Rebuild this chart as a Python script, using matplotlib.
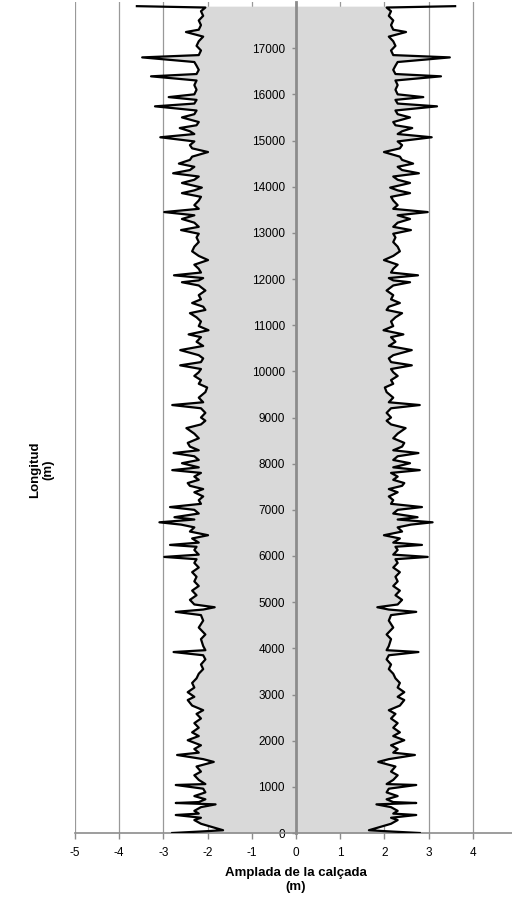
import numpy as np
import matplotlib
matplotlib.use("Agg")
import matplotlib.pyplot as plt

plt.rcParams["font.family"] = ["Liberation Sans", "DejaVu Sans"]
plt.rcParams["axes.unicode_minus"] = False

# Longitud (m) i semiamplada de la calçada (m), llegides del gràfic
dist = [
    0, 30, 60, 130, 200, 280, 330, 390, 420, 480, 560, 620, 650, 670, 730, 800,
    880, 960, 1040, 1060, 1150, 1250, 1330, 1440, 1540, 1600, 1690, 1740, 1820,
    1900, 2010, 2100, 2180, 2280, 2380, 2480, 2580, 2660, 2760, 2880, 2950, 3050,
    3150, 3250, 3350, 3450, 3550, 3650, 3760, 3850, 3920, 3960, 4050, 4200, 4300,
    4450, 4600, 4720, 4790, 4840, 4890, 4950, 5050, 5150, 5250, 5350, 5450, 5550,
    5650, 5750, 5850, 5930, 5980, 6030, 6130, 6200, 6240, 6290, 6380, 6450, 6530,
    6620, 6680, 6730, 6790, 6840, 6920, 7000, 7060, 7130, 7210, 7290, 7380, 7450,
    7520, 7580, 7650, 7720, 7800, 7860, 7920, 8010, 8080, 8160, 8230, 8290, 8370,
    8450, 8550, 8650, 8770, 8850, 8930, 9000, 9100, 9200, 9270, 9330, 9430, 9550,
    9650, 9730, 9810, 9900, 9980, 10050, 10130, 10200, 10280, 10350, 10460, 10550,
    10640, 10740, 10800, 10890, 10980, 11080, 11170, 11260, 11330, 11400, 11480,
    11560, 11650, 11750, 11860, 11930, 11970, 12020, 12080, 12140, 12220, 12310,
    12410, 12500, 12600, 12700, 12800, 12900, 12980, 13060, 13130, 13220, 13300,
    13380, 13450, 13520, 13600, 13700, 13780, 13860, 13920, 13980, 14080, 14150,
    14220, 14290, 14360, 14430, 14500, 14580, 14650, 14750, 14830, 14900, 14980,
    15070, 15140, 15200, 15270, 15330, 15400, 15500, 15570, 15650, 15740, 15800,
    15880, 15940, 16000, 16100, 16200, 16300, 16390, 16440, 16530, 16620, 16700,
    16800, 16850, 16950, 17050, 17150, 17250, 17350, 17400, 17500, 17600, 17700,
    17800, 17880, 17910,
]
half_width = [
    2.8, 2.2, 1.65, 1.9, 2.15, 2.3, 2.15, 2.72, 2.2, 2.3, 2.15, 1.82, 2.72, 2.2,
    2.05, 2.3, 2.05, 2.1, 2.72, 2.05, 2.2, 2.3, 2.15, 2.25, 1.86, 2.1, 2.69, 2.2,
    2.3, 2.15, 2.45, 2.2, 2.35, 2.2, 2.3, 2.15, 2.25, 2.1, 2.35, 2.45, 2.3, 2.45,
    2.3, 2.35, 2.25, 2.2, 2.1, 2.15, 2.05, 2.1, 2.77, 2.05, 2.1, 2.15, 2.05, 2.2,
    2.1, 2.15, 2.72, 2.1, 1.84, 2.3, 2.4, 2.25, 2.35, 2.2, 2.3, 2.25, 2.35, 2.2,
    2.3, 2.25, 2.98, 2.2, 2.3, 2.25, 2.85, 2.2, 2.35, 1.99, 2.4, 2.3, 2.6, 3.09,
    2.3, 2.75, 2.2, 2.3, 2.85, 2.15, 2.2, 2.1, 2.3, 2.1, 2.4, 2.45, 2.2, 2.3, 2.15,
    2.8, 2.2, 2.58, 2.2, 2.3, 2.77, 2.2, 2.4, 2.45, 2.2, 2.3, 2.48, 2.15, 2.05,
    2.15, 2.05, 2.15, 2.8, 2.1, 2.2, 2.05, 2.01, 2.2, 2.15, 2.3, 2.2, 2.15, 2.62,
    2.15, 2.1, 2.2, 2.62, 2.1, 2.25, 2.15, 2.43, 1.98, 2.2, 2.15, 2.25, 2.4, 2.05,
    2.1, 2.35, 2.15, 2.2, 2.05, 2.2, 2.58, 2.2, 2.1, 2.76, 2.15, 2.2, 2.3, 1.99,
    2.2, 2.35, 2.3, 2.2, 2.25, 2.2, 2.6, 2.2, 2.3, 2.58, 2.3, 2.98, 2.2, 2.3, 2.2,
    2.15, 2.58, 2.3, 2.13, 2.58, 2.3, 2.2, 2.78, 2.4, 2.3, 2.65, 2.4, 2.35, 1.99,
    2.35, 2.4, 2.3, 3.07, 2.3, 2.4, 2.63, 2.25, 2.2, 2.58, 2.3, 2.25, 3.19, 2.3,
    2.25, 2.88, 2.3, 2.25, 2.3, 2.25, 3.28, 2.25, 2.2, 2.25, 2.3, 3.48, 2.2, 2.15,
    2.25, 2.2, 2.1, 2.49, 2.2, 2.15, 2.2, 2.1, 2.15, 2.05, 3.6,
]
x_ticks = [-5, -4, -3, -2, -1, 0, 1, 2, 3, 4]
y_ticks = list(range(0, 18000, 1000))

d = np.array(dist)
w = np.array(half_width)

fig = plt.figure(figsize=(5.12, 9.0), dpi=100)
ax = fig.add_axes([75 / 512, 67 / 900, 442 / 512, 831 / 900])

# vertical gridlines under the grey fill
for xv in x_ticks + [5]:
    ax.axvline(xv, color="#999999", lw=0.9, zorder=0.5)

ax.fill_betweenx(d, -w, w, color="#d9d9d9", linewidth=0, zorder=1)
ax.plot(w, d, color="black", lw=1.6, zorder=3)
ax.plot(-w, d, color="black", lw=1.6, zorder=3)

ax.set_xlim(-5, 5)
ax.set_ylim(0, 18000)
ax.set_xticks(x_ticks)
ax.set_yticks(y_ticks)

for s in ["top", "right"]:
    ax.spines[s].set_visible(False)
ax.spines["left"].set_position(("data", 0))
ax.spines["left"].set_color("#8c8c8c")
ax.spines["left"].set_linewidth(2)
ax.spines["bottom"].set_color("#8c8c8c")
ax.spines["bottom"].set_linewidth(1.2)

ax.tick_params(axis="x", direction="out", length=4, width=1, color="#8c8c8c",
               labelsize=8.5, pad=6)
ax.tick_params(axis="y", direction="out", length=3, width=1, color="#8c8c8c",
               labelsize=8.5, pad=5)

fig.text(296 / 512, 1 - 880 / 900, "Amplada de la calçada\n(m)", ha="center",
         va="center", fontsize=9.5, fontweight="bold", linespacing=1.15)
fig.text(42 / 512, 1 - 470 / 900, "Longitud\n(m)", ha="center", va="center",
         rotation=90, fontsize=9.5, fontweight="bold", linespacing=1.15)

fig.savefig("out.png", dpi=100)
